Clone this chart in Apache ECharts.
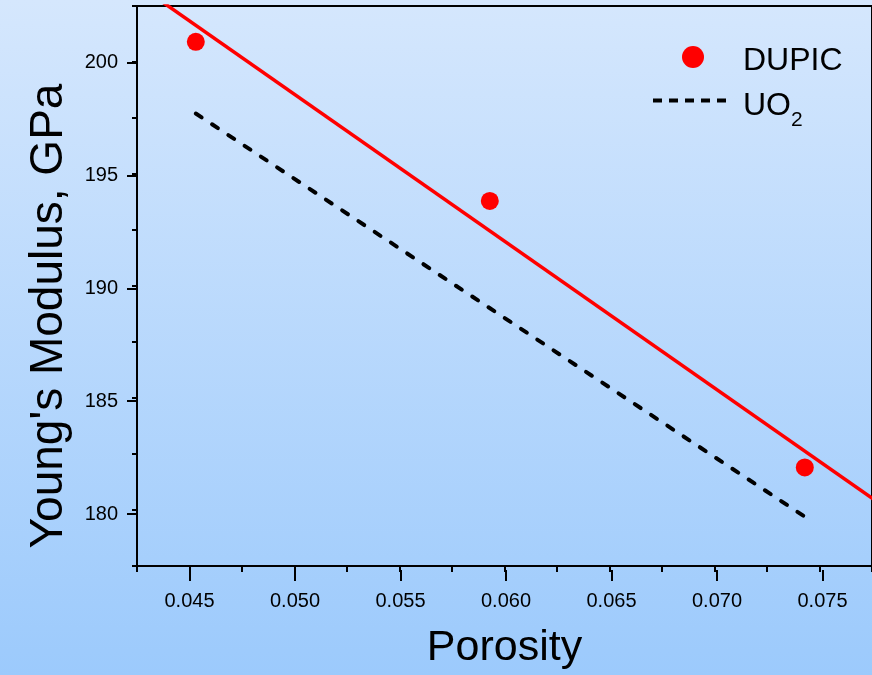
<!DOCTYPE html>
<html>
<head>
<meta charset="utf-8">
<title>Young's Modulus vs Porosity</title>
<script src="https://cdn.jsdelivr.net/npm/echarts@6/dist/echarts.min.js"></script>
<style>
  html, body { margin: 0; padding: 0; }
  #chart { width: 872px; height: 675px; }
</style>
</head>
<body>
<div id="chart"></div>
<script>
// DUPIC measured points
const dupicPorosity = [0.0453, 0.0593, 0.0743];
const dupicModulus = [200.9, 193.8, 181.9];
// red fit line through DUPIC (runs past the frame, gets clipped)
const fitPorosity = [0.042, 0.078];
const fitModulus = [203.8, 180.2];
// UO2 reference line
const uo2Porosity = [0.0453, 0.0743];
const uo2Modulus = [197.7, 179.7];

const FONT = "'Liberation Sans', Arial, sans-serif";
// five short dashes for the UO2 legend key
const DASH_ICON = 'path://M0,0H9V4H0Z M16,0H25V4H16Z M32,0H41V4H32Z M48,0H57V4H48Z M64,0H73V4H64Z';

function pairs(xs, ys) {
  return xs.map((x, i) => [x, ys[i]]);
}

const chart = echarts.init(document.getElementById('chart'));
chart.setOption({
  backgroundColor: {
    type: 'linear', x: 0, y: 0, x2: 0, y2: 1,
    colorStops: [
      { offset: 0, color: '#d5e7fd' },
      { offset: 1, color: '#9ccafc' }
    ]
  },
  textStyle: { fontFamily: FONT, color: '#000' },
  grid: [
    // plot frame (right side runs off the picture)
    { left: 137, top: 6, width: 738, height: 564, show: true, borderColor: '#000', borderWidth: 2, backgroundColor: 'transparent' },
    // helper grid for the labelled major ticks
    { left: 189.5, top: 62.7, width: 633, height: 451.3, show: false }
  ],
  xAxis: [
    {
      gridIndex: 0, type: 'value', min: 0.0425, max: 0.0775, interval: 0.0025,
      name: 'Porosity', nameLocation: 'middle', nameGap: 61,
      nameTextStyle: { fontSize: 43, fontFamily: FONT, color: '#000' },
      axisLine: { onZero: false, lineStyle: { color: '#000', width: 2 } },
      axisTick: { length: 6, lineStyle: { color: '#000', width: 2 } },
      axisLabel: { show: false },
      splitLine: { show: false }
    },
    {
      gridIndex: 1, type: 'value', min: 0.045, max: 0.075, interval: 0.005, offset: 56,
      axisLine: { show: false, onZero: false },
      axisTick: { length: 11, lineStyle: { color: '#000', width: 2 } },
      axisLabel: { fontSize: 20, margin: 21, color: '#000', fontFamily: FONT, formatter: v => v.toFixed(3) },
      splitLine: { show: false }
    }
  ],
  yAxis: [
    {
      gridIndex: 0, type: 'value', min: 177.5, max: 202.5, interval: 2.5,
      name: "Young's Modulus, GPa", nameLocation: 'middle', nameGap: 65,
      nameTextStyle: { fontSize: 46, fontFamily: FONT, color: '#000', padding: [0, 60, 0, 0] },
      axisLine: { show: true, onZero: false, lineStyle: { color: '#000', width: 2 } },
      axisTick: { show: true, length: 5, lineStyle: { color: '#000', width: 2 } },
      axisLabel: { show: false },
      splitLine: { show: false }
    },
    {
      gridIndex: 1, type: 'value', min: 180, max: 200, interval: 5, offset: 52.5,
      axisLine: { show: false, onZero: false },
      axisTick: { show: true, length: 10, lineStyle: { color: '#000', width: 2 } },
      axisLabel: { fontSize: 20, margin: 19, color: '#000', fontFamily: FONT },
      splitLine: { show: false }
    }
  ],
  legend: [
    {
      data: [{ name: 'DUPIC', icon: 'circle' }],
      left: 682, top: 37, padding: 0,
      itemWidth: 22, itemHeight: 22,
      formatter: '{m|{name}}',
      textStyle: {
        padding: [0, 0, 0, 34],
        rich: { m: { fontSize: 32, lineHeight: 36, padding: [8, 0, 0, 0], fontFamily: FONT, color: '#000' } }
      }
    },
    {
      data: [{ name: 'UO2', icon: DASH_ICON, itemStyle: { color: '#000' } }],
      left: 653, top: 70, padding: 0,
      itemWidth: 73, itemHeight: 4,
      formatter: () => '{m|UO}{s|2}',
      textStyle: {
        padding: [0, 0, 0, 12],
        rich: {
          m: { fontSize: 32, lineHeight: 36, padding: [12, 0, 0, 0], fontFamily: FONT, color: '#000' },
          s: { fontSize: 21, lineHeight: 21, padding: [40, 0, 0, 0], fontFamily: FONT, color: '#000' }
        }
      }
    }
  ],
  series: [
    {
      name: 'DUPIC fit', type: 'line', xAxisIndex: 0, yAxisIndex: 0,
      data: pairs(fitPorosity, fitModulus),
      showSymbol: false, clip: true,
      lineStyle: { color: '#ff0000', width: 3.5 },
      itemStyle: { color: '#ff0000' }
    },
    {
      name: 'UO2', type: 'line', xAxisIndex: 0, yAxisIndex: 0,
      data: pairs(uo2Porosity, uo2Modulus),
      symbol: 'none',
      lineStyle: { color: '#000', width: 4, type: [7, 12.5], cap: 'round' },
      itemStyle: { color: '#000' }
    },
    {
      name: 'DUPIC', type: 'scatter', xAxisIndex: 0, yAxisIndex: 0,
      data: pairs(dupicPorosity, dupicModulus),
      symbolSize: 18,
      itemStyle: { color: '#ff0000', opacity: 1 }
    }
  ]
});
</script>
</body>
</html>
